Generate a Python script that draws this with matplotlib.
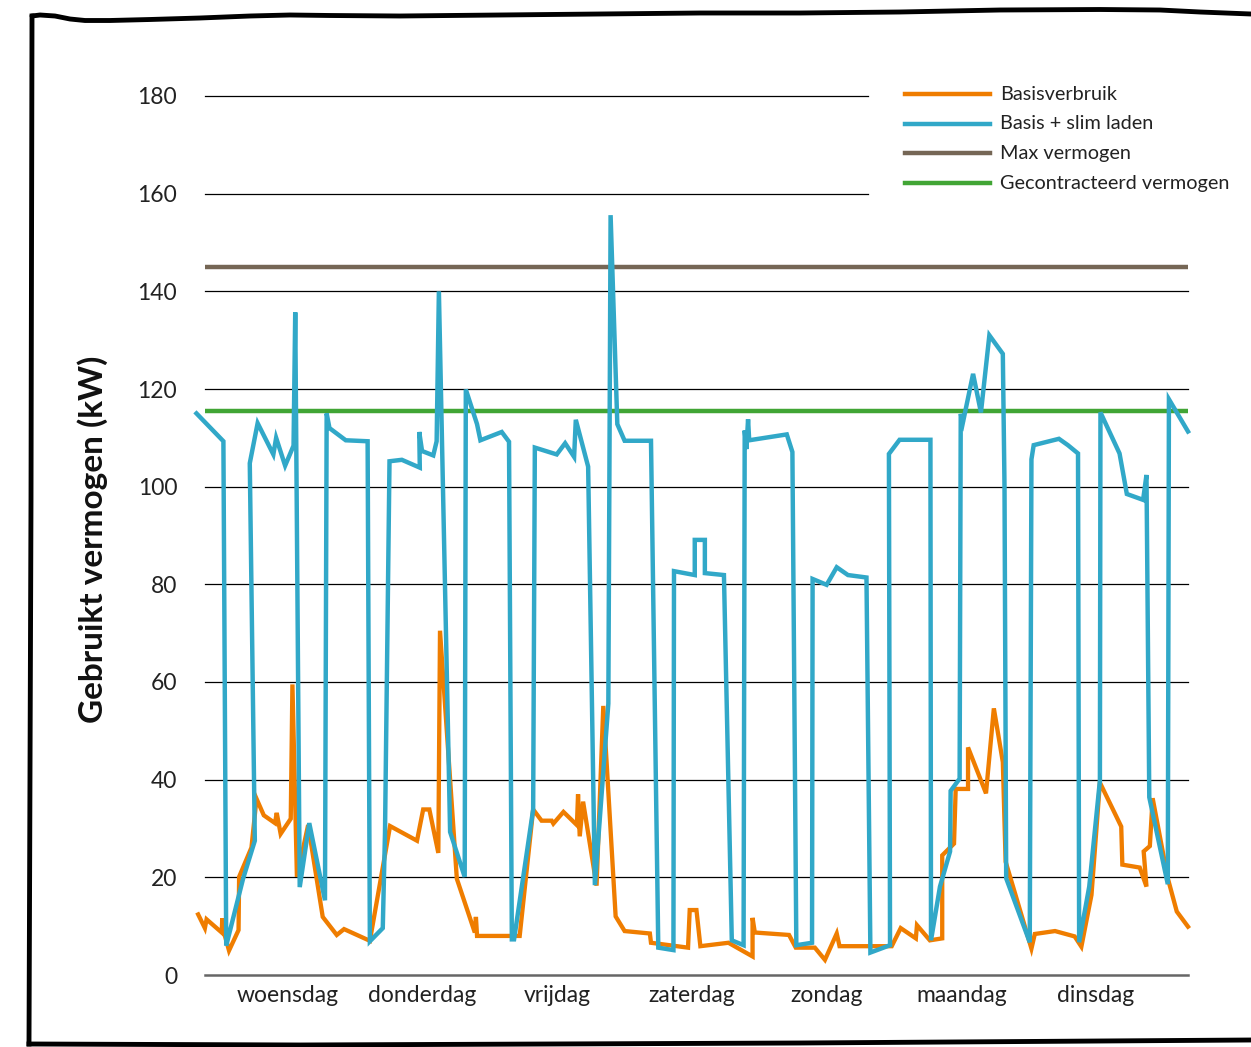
import numpy as np
import matplotlib.pyplot as plt
from matplotlib.lines import Line2D

plt.rcParams['font.family'] = ['Lato', 'DejaVu Sans']

# time in hours from wednesday 00:00, power in kW
blue_h = [-4.3, 0.5, 1.0, 4.0, 6.1, 5.2, 6.6, 9.4, 9.9, 11.5, 13.0, 13.3, 14.1, 15.8, 18.6,
          18.9, 19.4, 22.3, 26.2, 26.6, 28.9, 29.3, 30.1, 32.3, 35.5, 35.4, 35.9, 37.9, 38.5,
          38.9, 40.9, 43.5, 43.7, 45.7, 46.3, 50.1, 51.4, 51.9, 52.3, 55.7, 56.0, 59.9, 61.4,
          63.0, 63.3, 65.5, 66.7, 69.1, 69.5, 70.7, 72.0, 76.7, 78.0, 80.7, 80.8, 84.5, 84.5,
          86.3, 86.3, 89.7, 91.1, 93.2, 93.4, 93.7, 94.0, 94.2, 100.9, 101.9, 102.6, 105.4,
          105.5, 108.0, 109.8, 111.8, 115.1, 115.8, 119.3, 119.1, 121.0, 126.5, 126.6, 128.2,
          130.0, 130.1, 131.7, 131.9, 132.3, 134.1, 135.5, 137.0, 139.4, 139.7, 140.0, 144.2,
          144.5, 144.9, 149.4, 151.0, 152.8, 153.0, 154.8, 156.7, 156.8, 160.2, 161.5, 164.4,
          165.0, 165.5, 168.8, 169.0, 172.4]
blue_kw = [115.0, 109.3, 6.0, 19.7, 27.5, 104.8, 113.0, 106.6, 110.0, 104.3, 108.4, 135.7, 18.0,
           31.1, 15.3, 115.0, 112.0, 109.5, 109.3, 6.9, 9.6, 29.3, 105.2, 105.5, 103.9, 111.2,
           107.3, 106.4, 109.3, 140.0, 29.3, 20.1, 119.9, 112.8, 109.5, 111.2, 109.2, 7.3, 7.3,
           33.9, 108.0, 106.6, 108.9, 106.1, 113.7, 104.1, 18.4, 55.6, 155.6, 112.8, 109.4,
           109.4, 5.6, 5.1, 82.7, 81.9, 89.1, 89.1, 82.3, 81.9, 7.1, 6.1, 111.5, 107.7, 113.8,
           109.5, 110.7, 107.1, 6.1, 6.6, 81.1, 79.9, 83.5, 81.9, 81.4, 4.6, 6.1, 106.7, 109.6,
           109.6, 7.1, 18.1, 25.3, 37.7, 40.2, 114.9, 113.2, 123.1, 115.2, 131.0, 127.2, 100.0,
           19.8, 6.7, 105.6, 108.5, 109.8, 108.5, 106.8, 6.7, 18.1, 39.8, 115.2, 106.8, 98.5,
           97.3, 102.4, 36.4, 18.6, 117.9, 111.3]

orange_h = [-4.0, -2.8, -2.5, 0.2, 0.3, 0.6, 1.5, 3.2, 3.3, 5.5, 6.4, 7.7, 9.7, 10.0, 10.7,
            12.5, 12.8, 13.6, 15.6, 18.2, 20.7, 22.0, 26.6, 30.2, 35.0, 36.1, 37.2, 38.8, 39.1,
            42.1, 45.3, 45.5, 45.7, 53.3, 55.7, 57.2, 59.0, 59.3, 61.1, 63.5, 63.7, 64.0, 64.6,
            67.0, 68.2, 70.4, 72.0, 76.5, 76.7, 83.3, 83.6, 84.8, 85.5, 90.5, 94.8, 94.8, 95.2,
            101.3, 102.5, 105.9, 107.7, 109.8, 110.3, 119.6, 121.2, 123.9, 124.1, 126.4, 128.6,
            128.6, 130.7, 131.0, 133.2, 133.2, 136.4, 137.8, 139.4, 139.9, 144.5, 145.1, 148.7,
            152.2, 153.4, 155.2, 156.7, 160.5, 160.7, 163.8, 165.0, 164.5, 165.6, 166.1, 168.8,
            170.4, 172.4]
orange_kw = [12.4, 9.6, 11.4, 8.7, 11.6, 8.7, 5.0, 9.2, 20.1, 26.1, 36.1, 32.7, 31.1, 33.2, 28.9,
             32.0, 59.5, 20.1, 30.7, 11.9, 8.2, 9.4, 7.0, 30.5, 27.5, 33.9, 33.9, 25.0, 70.5,
             19.7, 8.7, 11.9, 8.0, 8.0, 33.9, 31.6, 31.6, 31.0, 33.4, 30.7, 37.0, 28.4, 35.5,
             18.3, 55.1, 12.0, 9.0, 8.5, 6.6, 5.6, 13.3, 13.3, 5.9, 6.6, 3.8, 11.7, 8.7,
             8.2, 5.6, 5.6, 3.1, 8.5, 5.9, 5.9, 9.6, 7.5, 10.2, 7.1, 7.5,
             24.5, 26.9, 38.1, 38.1, 46.6, 37.2, 54.6, 43.6, 23.2, 5.4, 8.4, 9.0,
             7.9, 5.8, 16.4, 39.4, 30.4, 22.6, 22.0, 18.1, 25.3, 26.4, 36.2, 19.8,
             13.0, 9.9]

max_vermogen = 145
gecontracteerd = 115.5

days = ['woensdag', 'donderdag', 'vrijdag', 'zaterdag', 'zondag', 'maandag', 'dinsdag']
yticks = [0, 20, 40, 60, 80, 100, 120, 140, 160, 180]

c_orange = '#EF7D00'
c_blue = '#31A8C8'
c_brown = '#756655'
c_green = '#41A535'

W, H = 1251, 1047
fig = plt.figure(figsize=(W / 100, H / 100), dpi=100)
ax = fig.add_axes([205 / W, (H - 975) / H, 983 / W, 879 / H])
x0, x1 = -2.78, 172.4
ax.set_xlim(x0, x1)
ax.set_ylim(0, 180)

# grid lines (top two stop short of the legend)
for v in yticks[1:]:
    xe = 115.3 if v >= 160 else x1
    ax.plot([x0, xe], [v, v], color='black', lw=0.9, zorder=1, clip_on=False)
ax.plot([x0, x1], [0, 0], color='#666666', lw=1.8, zorder=1, clip_on=False)

ax.plot([x0, x1], [max_vermogen] * 2, color=c_brown, lw=3.2, zorder=3)
ax.plot([x0, x1], [gecontracteerd] * 2, color=c_green, lw=3.2, zorder=3)
ax.plot(orange_h, orange_kw, color=c_orange, lw=3.1, zorder=4, clip_on=False,
        solid_joinstyle='miter')
ax.plot(blue_h, blue_kw, color=c_blue, lw=3.2, zorder=5, clip_on=False,
        solid_joinstyle='miter')

for s in ax.spines.values():
    s.set_visible(False)
ax.set_yticks(yticks)
ax.set_yticklabels([str(v) for v in yticks], fontsize=16.5, color='#222222')
ax.set_xticks([12 + 24 * i for i in range(7)])
ax.set_xticklabels(days, fontsize=16.5, color='#222222')
ax.tick_params(axis='y', length=0, pad=20)
ax.tick_params(axis='x', length=0, pad=7)

fig.text(93 / W, 1 - 539 / H, 'Gebruikt vermogen (kW)', rotation=90, ha='center',
         va='center', fontsize=24, fontweight='bold', color='#111111')

# legend
leg_labels = ['Basisverbruik', 'Basis + slim laden', 'Max vermogen', 'Gecontracteerd vermogen']
leg_colors = [c_orange, c_blue, c_brown, c_green]
for i, (lab, col) in enumerate(zip(leg_labels, leg_colors)):
    yy = 1 - (94 + 29.7 * i) / H
    fig.add_artist(Line2D([905 / W, 990 / W], [yy, yy], color=col, lw=3.2,
                          transform=fig.transFigure))
    fig.text(1000 / W, yy, lab, ha='left', va='center', fontsize=14.3, color='#222222')

# hand drawn frame
top_x = [32, 40, 55, 70, 85, 110, 150, 200, 250, 290, 330, 400, 500, 600, 700, 800,
         900, 1000, 1100, 1160, 1200, 1251]
top_y = [16, 15, 16, 19, 20.5, 20.5, 19.5, 18, 16, 15, 15.5, 16, 15, 14, 13, 13,
         12, 10, 9.5, 10, 12, 14]
fig.add_artist(Line2D([x / W for x in top_x], [1 - y / H for y in top_y], color='black',
                      lw=3.5, transform=fig.transFigure, solid_capstyle='round',
                      solid_joinstyle='round'))
fig.add_artist(Line2D([32 / W, 31 / W, 29 / W], [1 - 16 / H, 1 - 500 / H, 1 - 1044 / H],
                      color='black', lw=3.5, transform=fig.transFigure))
fig.add_artist(Line2D([29 / W, 300 / W, 800 / W, 1251 / W],
                      [1 - 1044 / H, 1 - 1045 / H, 1 - 1043 / H, 1 - 1040 / H],
                      color='black', lw=3.5, transform=fig.transFigure))

fig.savefig('out.png', dpi=100)
